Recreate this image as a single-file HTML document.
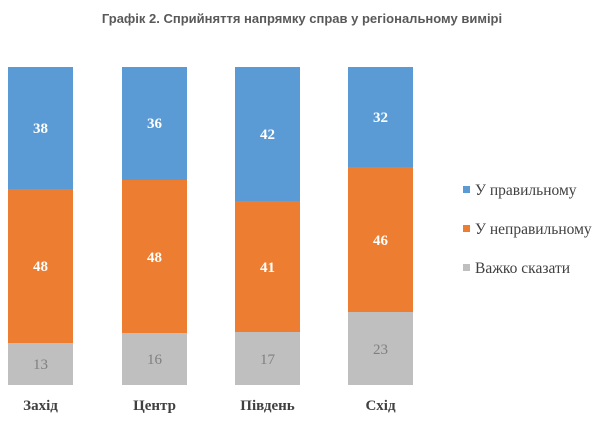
<!DOCTYPE html>
<html><head><meta charset="utf-8"><style>
body{margin:0;background:#fff;width:605px;height:420px;overflow:hidden}
</style></head><body>
<svg width="605" height="420" xmlns="http://www.w3.org/2000/svg">
<text x="302" y="23" text-anchor="middle" font-family="Liberation Sans, sans-serif" font-weight="bold" font-size="13" fill="#595959">Графік 2. Сприйняття напрямку справ у регіональному вимірі</text>
<g font-family="Liberation Serif, serif" font-size="15" text-anchor="middle">
<rect x="8" y="67" width="65" height="122" fill="#5b9bd5"/>
<rect x="8" y="189" width="65" height="154" fill="#ed7d31"/>
<rect x="8" y="343" width="65" height="42" fill="#bfbfbf"/>
<text x="40.5" y="133" fill="#fff" font-weight="bold">38</text>
<text x="40.5" y="271" fill="#fff" font-weight="bold">48</text>
<text x="40.5" y="369" fill="#7f7f7f">13</text>

<rect x="122" y="67" width="65" height="113" fill="#5b9bd5"/>
<rect x="122" y="180" width="65" height="153" fill="#ed7d31"/>
<rect x="122" y="333" width="65" height="52" fill="#bfbfbf"/>
<text x="154.5" y="128" fill="#fff" font-weight="bold">36</text>
<text x="154.5" y="262" fill="#fff" font-weight="bold">48</text>
<text x="154.5" y="364" fill="#7f7f7f">16</text>

<rect x="235" y="67" width="65" height="134" fill="#5b9bd5"/>
<rect x="235" y="201" width="65" height="131" fill="#ed7d31"/>
<rect x="235" y="332" width="65" height="53" fill="#bfbfbf"/>
<text x="267.5" y="139" fill="#fff" font-weight="bold">42</text>
<text x="267.5" y="272" fill="#fff" font-weight="bold">41</text>
<text x="267.5" y="364" fill="#7f7f7f">17</text>

<rect x="348" y="67" width="65" height="100" fill="#5b9bd5"/>
<rect x="348" y="167" width="65" height="145" fill="#ed7d31"/>
<rect x="348" y="312" width="65" height="73" fill="#bfbfbf"/>
<text x="380.5" y="122" fill="#fff" font-weight="bold">32</text>
<text x="380.5" y="245" fill="#fff" font-weight="bold">46</text>
<text x="380.5" y="354" fill="#7f7f7f">23</text>

<g font-weight="bold" fill="#404040">
<text x="40.5" y="410">Захід</text>
<text x="154.5" y="410">Центр</text>
<text x="267.5" y="410">Південь</text>
<text x="380.5" y="410">Схід</text>
</g>
</g>
<g font-family="Liberation Serif, serif" font-size="15.5" fill="#404040">
<rect x="463" y="186" width="7" height="7" fill="#5b9bd5"/>
<text x="475" y="195">У правильному</text>
<rect x="463" y="225" width="7" height="7" fill="#ed7d31"/>
<text x="475" y="234">У неправильному</text>
<rect x="463" y="264" width="7" height="7" fill="#bfbfbf"/>
<text x="475" y="273">Важко сказати</text>
</g>
</svg>
</body></html>
